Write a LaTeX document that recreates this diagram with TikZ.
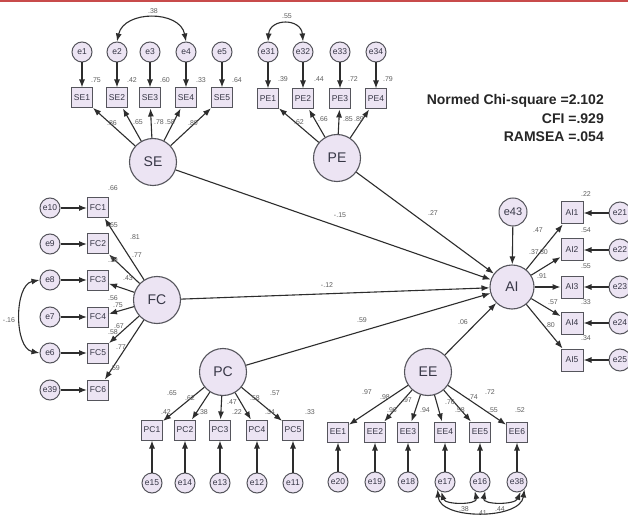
\documentclass[tikz,border=0pt]{standalone}
\usepackage{fontspec}
\setmainfont{Liberation Sans}
\usetikzlibrary{arrows.meta}
\definecolor{fillc}{RGB}{236,228,243}
\definecolor{edgec}{RGB}{85,85,92}
\definecolor{linec}{RGB}{45,45,45}
\definecolor{lblc}{RGB}{95,95,95}
\definecolor{txtc}{RGB}{55,55,70}
\definecolor{redc}{RGB}{200,75,75}
\tikzset{
  lat/.style={circle, draw=edgec, fill=fillc, line width=1.1pt, minimum size=47pt, inner sep=0pt, font=\fontsize{14}{14}\selectfont, text=txtc},
  err/.style={circle, draw=edgec, fill=fillc, line width=1pt, minimum size=20pt, inner sep=0pt, font=\fontsize{8.5}{9}\selectfont, text=txtc},
  obs/.style={rectangle, draw=edgec, fill=fillc, line width=1pt, minimum width=21pt, minimum height=20pt, inner sep=0pt, font=\fontsize{8.5}{9}\selectfont, text=txtc},
  arr/.style={draw=linec, line width=1.1pt, -{Latex[length=8pt,width=6pt]}},
  darr/.style={draw=linec, line width=1.1pt, {Latex[length=8pt,width=6pt]}-{Latex[length=8pt,width=6pt]}},
  lbl/.style={font=\fontsize{7}{7}\selectfont, text=lblc, inner sep=0pt},
  fit/.style={font=\fontsize{14}{14}\selectfont\bfseries, text=black!85, inner sep=0pt, anchor=base east}
}
\begin{document}
\begin{tikzpicture}[x=1pt,y=-1pt]
\useasboundingbox (0,0) rectangle (628,518);
\fill[white] (0,0) rectangle (628,518);
\fill[redc] (0,0) rectangle (628,2.5);

% latent variables
\node[lat] (SE) at (153,162) {SE};
\node[lat] (PE) at (337,158) {PE};
\node[lat] (FC) at (157,300) {FC};
\node[lat] (PC) at (223,372) {PC};
\node[lat] (EE) at (428,372) {EE};
\node[lat, minimum size=44pt] (AI) at (512,287) {AI};
\node[err, minimum size=28pt, font=\fontsize{11}{11}\selectfont] (e43) at (513,212) {e43};

% SE indicators
\foreach \i/\x in {1/82,2/117,3/150,4/186,5/222}{
  \node[obs] (SE\i) at (\x,98) {SE\i};
  \node[err] (e\i) at (\x,52) {e\i};
  \draw[arr] (e\i) -- (SE\i);
  \draw[arr] (SE) -- (SE\i);
}
% PE indicators
\foreach \i/\x/\e in {1/268/31,2/303/32,3/340/33,4/376/34}{
  \node[obs] (PE\i) at (\x,99) {PE\i};
  \node[err] (e\e) at (\x,52) {e\e};
  \draw[arr] (e\e) -- (PE\i);
  \draw[arr] (PE) -- (PE\i);
}
% FC indicators
\foreach \i/\y/\e in {1/208/10,2/244/9,3/280/8,4/317/7,5/353/6,6/390/39}{
  \node[obs] (FC\i) at (98,\y) {FC\i};
  \node[err] (e\e) at (50,\y) {e\e};
  \draw[arr] (e\e) -- (FC\i);
  \draw[arr] (FC) -- (FC\i);
}
% PC indicators
\foreach \i/\x/\e in {1/152/15,2/185/14,3/220/13,4/257/12,5/293/11}{
  \node[obs] (PC\i) at (\x,430) {PC\i};
  \node[err] (e\e) at (\x,483) {e\e};
  \draw[arr] (e\e) -- (PC\i);
  \draw[arr] (PC) -- (PC\i);
}
% EE indicators
\foreach \i/\x/\e in {1/338/20,2/375/19,3/408/18,4/445/17,5/480/16,6/517/38}{
  \node[obs] (EE\i) at (\x,432) {EE\i};
  \node[err] (e\e) at (\x,482) {e\e};
  \draw[arr] (e\e) -- (EE\i);
  \draw[arr] (EE) -- (EE\i);
}
% AI indicators
\foreach \i/\y/\e in {1/213/21,2/250/22,3/287/23,4/323/24,5/360/25}{
  \node[obs, minimum width=22pt, minimum height=22pt] (AI\i) at (572,\y) {AI\i};
  \node[err, minimum size=22pt] (e\e) at (620,\y) {e\e};
  \draw[arr] (e\e) -- (AI\i);
  \draw[arr] (AI) -- (AI\i);
}

% structural paths
\draw[arr] (e43) -- (AI);
\draw[arr] (SE) -- (AI);
\draw[arr] (PE) -- (AI);
\draw[arr] (FC) -- (AI);
\draw[arr] (PC) -- (AI);
\draw[arr] (EE) -- (AI);

% covariances
\draw[darr] (e2.north) .. controls (124,10) and (180,10) .. (e4.north);
\draw[darr] (e31.north) .. controls (270,18) and (301,18) .. (e32.north);
\draw[darr] (e8.west) .. controls (14,285) and (14,348) .. (e6.west);
\draw[darr] (e17.250) .. controls (445,505) and (478,505) .. (e16.240);
\draw[darr] (e16.300) .. controls (482,505) and (515,505) .. (e38.290);
\draw[darr] (e17.225) .. controls (440,520) and (520,520) .. (e38.315);

% covariance labels
\node[lbl] at (153,11) {.38};
\node[lbl] at (287,16) {.55};
\node[lbl] at (9,320) {-.16};
\node[lbl] at (464,509) {.38};
\node[lbl] at (482,513) {.41};
\node[lbl] at (500,509) {.44};

% SE labels
\node[lbl] at (96,80) {.75};
\node[lbl] at (132,80) {.42};
\node[lbl] at (165,80) {.60};
\node[lbl] at (201,80) {.33};
\node[lbl] at (237,80) {.64};
\node[lbl] at (112,123) {.86};
\node[lbl] at (138,122) {.65};
\node[lbl] at (159,122) {.78};
\node[lbl] at (170,122) {.58};
\node[lbl] at (193,123) {.80};

% PE labels
\node[lbl] at (283,79) {.39};
\node[lbl] at (319,79) {.44};
\node[lbl] at (353,79) {.72};
\node[lbl] at (388,79) {.79};
\node[lbl] at (299,122) {.62};
\node[lbl] at (323,119) {.66};
\node[lbl] at (348,119) {.85};
\node[lbl] at (359,119) {.89};

% FC labels
\node[lbl] at (113,188) {.66};
\node[lbl] at (113,225) {.65};
\node[lbl] at (135,237) {.81};
\node[lbl] at (137,255) {.77};
\node[lbl] at (113,260) {.19};
\node[lbl] at (128,278) {.43};
\node[lbl] at (113,298) {.56};
\node[lbl] at (118,305) {.75};
\node[lbl] at (119,326) {.67};
\node[lbl] at (113,332) {.58};
\node[lbl] at (121,347) {.77};
\node[lbl] at (115,368) {.59};

% AI labels
\node[lbl] at (586,194) {.22};
\node[lbl] at (586,230) {.54};
\node[lbl] at (586,266) {.55};
\node[lbl] at (586,302) {.33};
\node[lbl] at (586,338) {.34};
\node[lbl] at (538,230) {.47};
\node[lbl] at (534,252) {.37};
\node[lbl] at (543,252) {.80};
\node[lbl] at (542,276) {.91};
\node[lbl] at (553,302) {.57};
\node[lbl] at (550,325) {.80};

% PC labels
\node[lbl] at (172,393) {.65};
\node[lbl] at (190,398) {.62};
\node[lbl] at (232,402) {.47};
\node[lbl] at (255,398) {.58};
\node[lbl] at (275,393) {.57};
\node[lbl] at (166,412) {.42};
\node[lbl] at (203,412) {.38};
\node[lbl] at (237,412) {.22};
\node[lbl] at (270,412) {.34};
\node[lbl] at (310,412) {.33};

% EE labels
\node[lbl] at (367,392) {.97};
\node[lbl] at (385,397) {.98};
\node[lbl] at (407,400) {.97};
\node[lbl] at (450,402) {.76};
\node[lbl] at (473,397) {.74};
\node[lbl] at (490,392) {.72};
\node[lbl] at (392,410) {.96};
\node[lbl] at (425,410) {.94};
\node[lbl] at (460,410) {.58};
\node[lbl] at (493,410) {.55};
\node[lbl] at (520,410) {.52};

% structural labels
\node[lbl] at (340,215) {-.15};
\node[lbl] at (433,213) {.27};
\node[lbl] at (327,285) {-.12};
\node[lbl] at (362,320) {.59};
\node[lbl] at (463,322) {.06};

% fit indices
\node[fit] (chi) at (604,105) {Normed Chi-square =2.102};
\node[fit] (cfi) at (604,123.5) {CFI =.929};
\node[fit] (rmsea) at (604,141.5) {RAMSEA =.054};
\end{tikzpicture}
\end{document}
